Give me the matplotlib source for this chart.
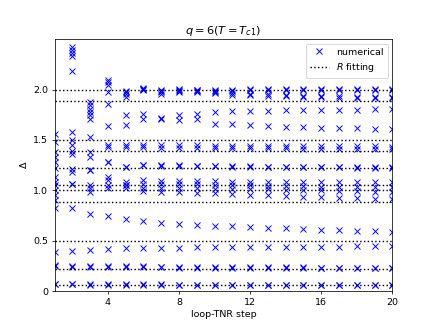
import matplotlib
matplotlib.use('Agg')
import matplotlib.pyplot as plt
import numpy as np

nan = np.nan
steps = list(range(1, 21))

# numerical scaling dimensions, one list per level (sorted index), steps 1..20
k01 = [0.073, 0.073, 0.070, 0.068, 0.066, 0.065, 0.065, 0.064, 0.064, 0.064, 0.063, 0.063, 0.063, 0.062, 0.062, 0.062, 0.062, 0.061, 0.061, 0.061]
k02 = [0.066, 0.066, 0.064, 0.062, 0.060, 0.059, 0.059, 0.058, 0.058, 0.058, 0.058, 0.057, 0.057, 0.057, 0.057, 0.056, 0.056, 0.056, 0.056, 0.056]
k03 = [0.255, 0.248, 0.246, 0.245, 0.244, 0.245, 0.243, 0.242, 0.240, 0.240, 0.238, 0.237, 0.236, 0.235, 0.234, 0.233, 0.232, 0.231, 0.230, 0.230]
k04 = [0.245, 0.240, 0.238, 0.236, 0.235, 0.236, 0.234, 0.232, 0.231, 0.230, 0.229, 0.228, 0.228, 0.227, 0.226, 0.226, 0.225, 0.225, 0.224, 0.224]
k05 = [0.390, 0.400, 0.410, 0.420, 0.425, 0.430, 0.430, 0.432, 0.434, 0.435, 0.437, 0.438, 0.439, 0.440, 0.440, 0.441, 0.442, 0.443, 0.444, 0.445]
k06 = [0.820, 0.820, 0.760, 0.745, 0.720, 0.700, 0.680, 0.668, 0.660, 0.648, 0.645, 0.635, 0.630, 0.625, 0.615, 0.610, 0.605, 0.600, 0.595, 0.590]
k07 = [0.900, 1.060, 0.985, 1.020, 1.020, 0.990, 0.985, 0.980, 0.975, 0.970, 0.965, 0.958, 0.950, 0.942, 0.935, 0.930, 0.925, 0.920, 0.915, 0.910]
k08 = [0.950, 1.067, 1.020, 1.050, 1.050, 1.027, 1.025, 1.022, 1.020, 1.018, 1.017, 1.014, 1.010, 1.007, 1.004, 1.000, 0.995, 0.990, 0.985, 0.980]
k09 = [1.000, 1.180, 1.050, 1.100, 1.055, 1.067, 1.065, 1.062, 1.060, 1.056, 1.050, 1.048, 1.045, 1.042, 1.040, 1.037, 1.035, 1.032, 1.030, 1.028]
k10 = [1.050, 1.215, 1.200, 1.130, 1.080, 1.100, 1.095, 1.093, 1.090, 1.088, 1.086, 1.085, 1.084, 1.083, 1.082, 1.081, 1.080, 1.080, 1.079, 1.078]
k11 = [1.080, 1.360, 1.200, 1.280, 1.230, 1.255, 1.250, 1.248, 1.245, 1.243, 1.240, 1.238, 1.236, 1.235, 1.233, 1.232, 1.230, 1.230, 1.229, 1.228]
k12 = [1.130, 1.390, 1.330, 1.285, 1.235, 1.250, 1.245, 1.243, 1.240, 1.238, 1.235, 1.233, 1.232, 1.230, 1.229, 1.228, 1.227, 1.226, 1.225, 1.224]
k13 = [1.220, 1.450, 1.380, 1.430, 1.430, 1.430, 1.425, 1.425, 1.422, 1.420, 1.420, 1.418, 1.417, 1.416, 1.415, 1.414, 1.413, 1.412, 1.411, 1.410]
k14 = [1.280, 1.500, 1.530, 1.450, 1.450, 1.450, 1.448, 1.446, 1.445, 1.444, 1.443, 1.442, 1.441, 1.440, 1.440, 1.439, 1.438, 1.437, 1.436, 1.435]
k15 = [1.330, 1.580, 1.710, 1.640, 1.647, 1.710, 1.710, 1.700, 1.705, 1.660, 1.655, 1.650, 1.640, 1.630, 1.625, 1.620, 1.618, 1.615, 1.612, 1.610]
k16 = [1.380, 2.180, 1.750, 1.855, 1.746, 1.760, 1.715, 1.750, 1.760, 1.780, 1.790, 1.790, 1.792, 1.795, 1.800, 1.800, 1.800, 1.802, 1.803, 1.805]
k17 = [1.480, 2.330, 1.780, 1.980, 1.930, 2.000, 1.960, 1.980, 1.975, 1.965, 1.950, 1.945, 1.940, 1.935, 1.925, 1.922, 1.920, 1.918, 1.915, 1.912]
k18 = [1.560, 2.360, 1.810, 2.050, 1.955, 2.005, 1.975, 1.990, 1.985, 1.975, 1.965, 1.960, 1.955, 1.950, 1.940, 1.935, 1.932, 1.930, 1.928, 1.925]
k19 = [nan, 2.390, 1.850, 2.080, 1.980, 2.010, 1.990, 2.000, 1.995, 1.990, 1.990, 1.992, 1.994, 1.995, 1.996, 1.997, 1.998, 1.998, 1.999, 2.000]
k20 = [nan, 2.420, 1.880, 2.100, 1.990, 2.020, 2.000, 2.005, 2.000, 2.000, 2.000, 2.002, 2.003, 2.004, 2.004, 2.005, 2.005, 2.006, 2.006, 2.006]

levels = [k01, k02, k03, k04, k05, k06, k07, k08, k09, k10,
          k11, k12, k13, k14, k15, k16, k17, k18, k19, k20]

# R fitting (CFT) values
r_fit = [0.0556, 0.2222, 0.5, 0.8889, 1.0, 1.0556, 1.2222, 1.3889, 1.5, 1.8889, 2.0]

fig, ax = plt.subplots(figsize=(6.4, 4.8))

for i, lev in enumerate(levels):
    ax.plot(steps, lev, 'bx', ls='none', label='numerical' if i == 0 else None)
for i, r in enumerate(r_fit):
    ax.axhline(r, color='k', ls=':', label='$R$ fitting' if i == 0 else None)

ax.set_xlim(1, 20)
ax.set_ylim(0, 2.5)
ax.set_xticks([4, 8, 12, 16, 20])
ax.set_yticks([0, 0.5, 1.0, 1.5, 2.0])
ax.set_yticklabels(['0', '0.5', '1.0', '1.5', '2.0'])
ax.set_xlabel('loop-TNR step')
ax.set_ylabel(r'$\Delta$')
ax.set_title(r'$q=6(T=T_{c1})$')
ax.legend(loc='upper right')

fig.savefig('out.png', dpi=68.125)
